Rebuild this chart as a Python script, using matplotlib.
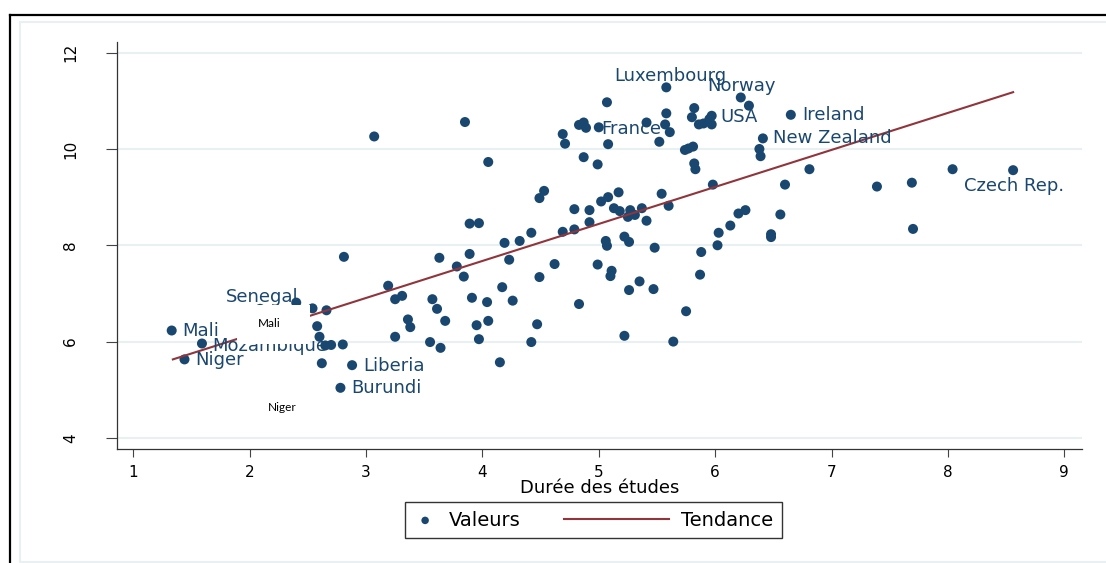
import numpy as np
import matplotlib
matplotlib.use("Agg")
import matplotlib.pyplot as plt
from matplotlib.lines import Line2D
from matplotlib.patches import Rectangle
from matplotlib.legend_handler import HandlerLine2D

# pays sans etiquette : duree des etudes / valeur
duree = [2.40, 2.54, 2.66, 2.58, 2.60, 2.65, 2.70, 2.80, 2.62, 2.81,
         3.19, 3.25, 3.31, 3.36, 3.38, 3.25, 3.07, 3.85, 4.05, 3.63,
         3.89, 3.78, 3.84, 3.57, 3.61, 3.68, 3.55, 3.64, 3.91, 4.04,
         3.95, 4.05, 3.97, 3.89, 3.97, 4.19, 4.32, 4.42, 4.23, 4.17,
         4.26, 4.15, 4.49, 4.53, 4.69, 4.79, 4.62, 4.49, 4.47, 4.42,
         4.83, 4.69, 4.71, 4.83, 4.87, 4.89, 5.07, 5.08, 4.87, 4.99,
         5.17, 5.08, 5.02, 4.79, 4.92, 5.13, 5.18, 5.27, 5.37, 5.25,
         5.31, 5.41, 4.92, 5.22, 5.26, 5.06, 5.07, 4.99, 5.11, 5.10,
         5.35, 5.26, 5.47, 5.48, 5.22, 5.64, 5.75, 5.41, 5.57, 5.58,
         5.61, 5.52, 5.54, 5.60, 5.82, 5.80, 5.95, 5.86, 5.90, 5.97,
         5.74, 5.77, 5.81, 5.82, 5.83, 5.98, 6.03, 6.02, 5.88, 5.87,
         6.13, 6.20, 6.26, 6.29, 6.38, 6.39, 6.56, 6.48, 6.48, 6.60,
         6.81, 7.39, 7.69, 7.70, 8.04]
valeur = [6.81, 6.69, 6.65, 6.32, 6.10, 5.92, 5.93, 5.94, 5.55, 7.76,
          7.16, 6.88, 6.95, 6.46, 6.30, 6.10, 10.26, 10.56, 9.73, 7.74,
          7.82, 7.56, 7.35, 6.88, 6.68, 6.43, 5.99, 5.87, 6.91, 6.82,
          6.34, 6.43, 6.05, 8.45, 8.46, 8.05, 8.09, 8.26, 7.70, 7.13,
          6.85, 5.57, 8.98, 9.13, 8.28, 8.33, 7.61, 7.34, 6.36, 5.99,
          6.78, 10.31, 10.11, 10.50, 10.55, 10.44, 10.97, 10.10, 9.83, 9.68,
          9.10, 9.00, 8.91, 8.75, 8.73, 8.77, 8.71, 8.73, 8.77, 8.59,
          8.63, 8.51, 8.48, 8.18, 8.07, 8.09, 7.99, 7.60, 7.47, 7.36,
          7.25, 7.07, 7.09, 7.95, 6.12, 6.00, 6.63, 10.55, 10.51, 10.74,
          10.35, 10.15, 9.07, 8.82, 10.85, 10.66, 10.62, 10.51, 10.53, 10.51,
          9.98, 10.01, 10.05, 9.70, 9.58, 9.26, 8.26, 8.00, 7.86, 7.39,
          8.41, 8.66, 8.73, 10.90, 10.00, 9.85, 8.64, 8.23, 8.17, 9.26,
          9.58, 9.22, 9.30, 8.34, 9.58]

# pays etiquetes
pays = ["Luxembourg", "Norway", "USA", "Ireland", "New Zealand", "France",
        "Czech Rep.", "Senegal", "Mali", "Mozambique", "Niger", "Liberia",
        "Burundi"]
pays_duree = [5.58, 6.22, 5.97, 6.65, 6.41, 5.00, 8.56, 2.09, 1.33, 1.59,
              1.44, 2.88, 2.78]
pays_valeur = [11.28, 11.07, 10.69, 10.71, 10.22, 10.45, 9.56, 6.68, 6.23,
               5.96, 5.63, 5.51, 5.04]

# droite de tendance (extremites)
tendance_x = [1.34, 8.56]
tendance_y = [5.63, 11.18]

# placement des etiquettes (decalage en pixels, alignement)
place = {
    "Luxembourg": (4, 11, "center"),
    "Norway": (1, 11, "center"),
    "USA": (9, -1, "left"),
    "Ireland": (11, 0, "left"),
    "New Zealand": (10, 0, "left"),
    "France": (2, -2, "left"),
    "Czech Rep.": (1, -16, "center"),
    "Senegal": (2, 12, "center"),
    "Mali": (11, 0, "left"),
    "Mozambique": (10, -2, "left"),
    "Niger": (11, -1, "left"),
    "Liberia": (11, -1, "left"),
    "Burundi": (11, 0, "left"),
}

navy = "#1a476f"
maroon = "#90353b"
W, H = 1106, 563

fig = plt.figure(figsize=(W / 100, H / 100), dpi=100)
ax = fig.add_axes([117 / W, 114 / H, 965 / W, 407 / H])

ax.scatter(duree + pays_duree, valeur + pays_valeur, s=52, color=navy,
           edgecolors="none", zorder=3, label="Valeurs")
ax.plot(tendance_x, tendance_y, color=maroon, lw=1.5, zorder=4,
        label="Tendance")

for nom, px, py in zip(pays, pays_duree, pays_valeur):
    dx, dy, ha = place[nom]
    ax.annotate(nom, (px, py), xytext=(dx, dy), textcoords="offset pixels",
                ha=ha, va="center", fontsize=13, color=navy, zorder=5,
                annotation_clip=False)

# zone de texte collee par-dessus (fond blanc)
ax.add_patch(Rectangle((1.891, 5.95), 0.627, 0.81, facecolor="white",
                       edgecolor="none", zorder=6))
ax.text(2.168, 6.38, "Mali", fontsize=8.5, family="Lato", color="black",
        ha="center", va="center", zorder=7)
ax.text(2.283, 4.627, "Niger", fontsize=8.5, family="Lato", color="black",
        ha="center", va="center", zorder=7)

ax.set_xlim(0.86, 9.152)
ax.set_ylim(3.769, 12.222)
ax.set_xticks(range(1, 10))
ax.set_yticks([4, 6, 8, 10, 12])
ax.yaxis.grid(True, color="#e8f0f2", lw=1.5)
ax.set_axisbelow(True)

for s in ["top", "right"]:
    ax.spines[s].set_visible(False)
for s in ["left", "bottom"]:
    ax.spines[s].set_color("#333333")
    ax.spines[s].set_linewidth(0.9)

ax.tick_params(axis="y", length=8, width=0.8, color="#444444", pad=20,
               labelsize=11)
ax.tick_params(axis="x", length=5.5, width=0.8, color="#444444", pad=6,
               labelsize=11)
plt.setp(ax.get_yticklabels(), rotation=90, ha="right", va="center")
ax.set_xlabel("Durée des études", fontsize=13, labelpad=-1)


class LigneLongue(HandlerLine2D):
    def get_xdata(self, legend, xdescent, ydescent, width, height, fontsize):
        xdata = np.array([-xdescent - 3.4 * width, -xdescent + width])
        return xdata, xdata


h1, l1 = ax.get_legend_handles_labels()
leg = fig.legend(h1, l1, loc="center left",
                 bbox_to_anchor=(405 / W, (H - 520) / H),
                 bbox_transform=fig.transFigure, ncol=2, fontsize=14,
                 frameon=True, fancybox=False, edgecolor="black",
                 handlelength=1.23, handletextpad=0.62, columnspacing=6.4,
                 borderpad=0.42, borderaxespad=0, markerscale=0.75,
                 handler_map={Line2D: LigneLongue()})
leg.get_frame().set_linewidth(1.0)

# cadres exterieurs
light = "#e8f0f2"
fig.add_artist(Line2D([20 / W, 1], [1 - 22 / H, 1 - 22 / H], color=light,
                      lw=1.5, transform=fig.transFigure))
fig.add_artist(Line2D([20 / W, 20 / W], [1 - 22 / H, 0.5 / H], color=light,
                      lw=1.5, transform=fig.transFigure))
fig.add_artist(Line2D([20 / W, 1], [0.8 / H, 0.8 / H], color=light,
                      lw=1.5, transform=fig.transFigure))
fig.add_artist(Line2D([9.5 / W, 1], [1 - 14.5 / H, 1 - 14.5 / H],
                      color="black", lw=1.6, transform=fig.transFigure))
fig.add_artist(Line2D([9.5 / W, 9.5 / W], [1 - 14.5 / H, 0], color="black",
                      lw=1.6, transform=fig.transFigure))

fig.savefig("out.png", dpi=100)
